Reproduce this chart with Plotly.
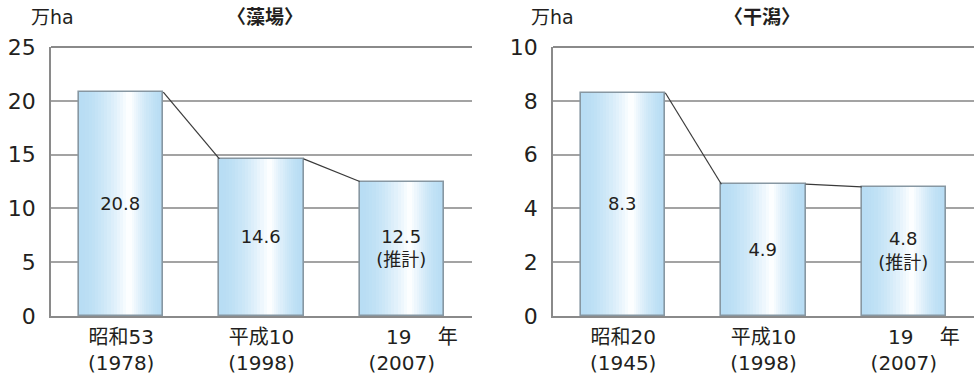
import plotly.graph_objects as go

# Seagrass / seaweed beds (藻場)
mo_categories = ["昭和53<br>(1978)", "平成10<br>(1998)", "\u3000\u300019\u3000 年<br>(2007)"]
mo_values = [20.8, 14.6, 12.5]
mo_labels = ["20.8", "14.6", "12.5<br>(推計)"]

# Tidal flats (干潟)
hg_categories = ["昭和20<br>(1945)", "平成10<br>(1998)", "\u3000\u300019\u3000 年<br>(2007)"]
hg_values = [8.3, 4.9, 4.8]
hg_labels = ["8.3", "4.9", "4.8<br>(推計)"]

FONT = "DejaVu Sans, Noto Sans CJK JP, sans-serif"
TEXT = "#231f20"
GRID = "#a3a3a3"
EDGE = "#8797a2"
BAR_W = 0.6
HIGHLIGHT = 0.6  # fraction of bar width where the sheen peaks
BLUE = (184, 221, 244)
WHITE = (252, 254, 255)

W, H = 978, 382

fig = go.Figure()


def add_panel(cats, vals, labels, xa, ya):
    xs = list(range(len(cats)))
    # Horizontal sheen: nested bars fading from blue at the edges to white
    steps = 16
    for k in range(steps):
        a = 1 - k / steps
        t = (k / (steps - 1)) ** 1.6
        col = tuple(round(BLUE[i] + (WHITE[i] - BLUE[i]) * t) for i in range(3))
        left = -BAR_W / 2 + BAR_W * HIGHLIGHT * (1 - a)
        width = BAR_W * a
        fig.add_trace(go.Bar(
            x=xs, y=vals, width=width, offset=left,
            marker=dict(color="rgb(%d,%d,%d)" % col, line=dict(width=0)),
            xaxis=xa, yaxis=ya, hoverinfo="skip", showlegend=False))
    # Outline + value labels
    fig.add_trace(go.Bar(
        x=xs, y=vals, width=BAR_W, offset=-BAR_W / 2,
        marker=dict(color="rgba(0,0,0,0)", line=dict(color=EDGE, width=1.6)),
        text=labels, textposition="inside", insidetextanchor="middle",
        textangle=0, constraintext="none",
        textfont=dict(family=FONT, size=18, color=TEXT),
        xaxis=xa, yaxis=ya, showlegend=False))
    # Connector lines between bar tops
    for i in range(len(vals) - 1):
        fig.add_trace(go.Scatter(
            x=[xs[i] + BAR_W / 2, xs[i + 1] - BAR_W / 2],
            y=[vals[i], vals[i + 1]], mode="lines",
            line=dict(color="#3a3a3a", width=1.2),
            xaxis=xa, yaxis=ya, hoverinfo="skip", showlegend=False))


add_panel(mo_categories, mo_values, mo_labels, "x", "y")
add_panel(hg_categories, hg_values, hg_labels, "x2", "y2")

ydom = [1 - 316 / H, 1 - 47 / H]
xcommon = dict(range=[-0.5, 2.5], tickmode="array", tickvals=[0, 1, 2],
               showgrid=False, zeroline=False, showline=True, automargin=False,
               linecolor="#8a8a8a", linewidth=2, ticks="", ticklabelstandoff=2,
               tickfont=dict(family=FONT, size=20, color=TEXT))
ycommon = dict(showgrid=True, gridcolor=GRID, gridwidth=1.6, zeroline=False,
               showline=True, linecolor="#8a8a8a", linewidth=1.6, ticks="",
               automargin=False, ticklabelstandoff=9,
               tickfont=dict(family=FONT, size=22, color=TEXT))

fig.update_layout(
    width=W, height=H,
    margin=dict(l=0, r=0, t=0, b=0, autoexpand=False),
    paper_bgcolor="white", plot_bgcolor="white",
    barmode="overlay", bargap=0,
    xaxis=dict(domain=[51 / W, 472 / W], ticktext=mo_categories, anchor="y", **xcommon),
    yaxis=dict(domain=ydom, range=[0, 25], dtick=5, anchor="x", **ycommon),
    xaxis2=dict(domain=[553 / W, 974 / W], ticktext=hg_categories, anchor="y2", **xcommon),
    yaxis2=dict(domain=ydom, range=[0, 10], dtick=2, anchor="x2", **ycommon),
)

# Unit captions (left-aligned) and panel titles (centred), positioned in pixels
headers = [("万ha", 29, 17, False, "left"), ("万ha", 529, 17, False, "left"),
           ("〈藻場〉", 265, 17, True, "center"), ("〈干潟〉", 762, 17, True, "center")]
for txt, px, py, bold, anchor in headers:
    fig.add_annotation(
        text="<b>%s</b>" % txt if bold else txt,
        x=px / W, y=1 - py / H, xref="paper", yref="paper",
        xanchor=anchor, yanchor="middle", showarrow=False,
        font=dict(family=FONT, size=19, color=TEXT))

# Top frame line at the axis maximum
for yref, xref in (("y", "x"), ("y2", "x2")):
    fig.add_shape(type="line", xref=xref + " domain", yref=yref + " domain",
                  x0=0, x1=1, y0=1, y1=1, line=dict(color="#8a8a8a", width=2))

fig.write_html("out.html")
